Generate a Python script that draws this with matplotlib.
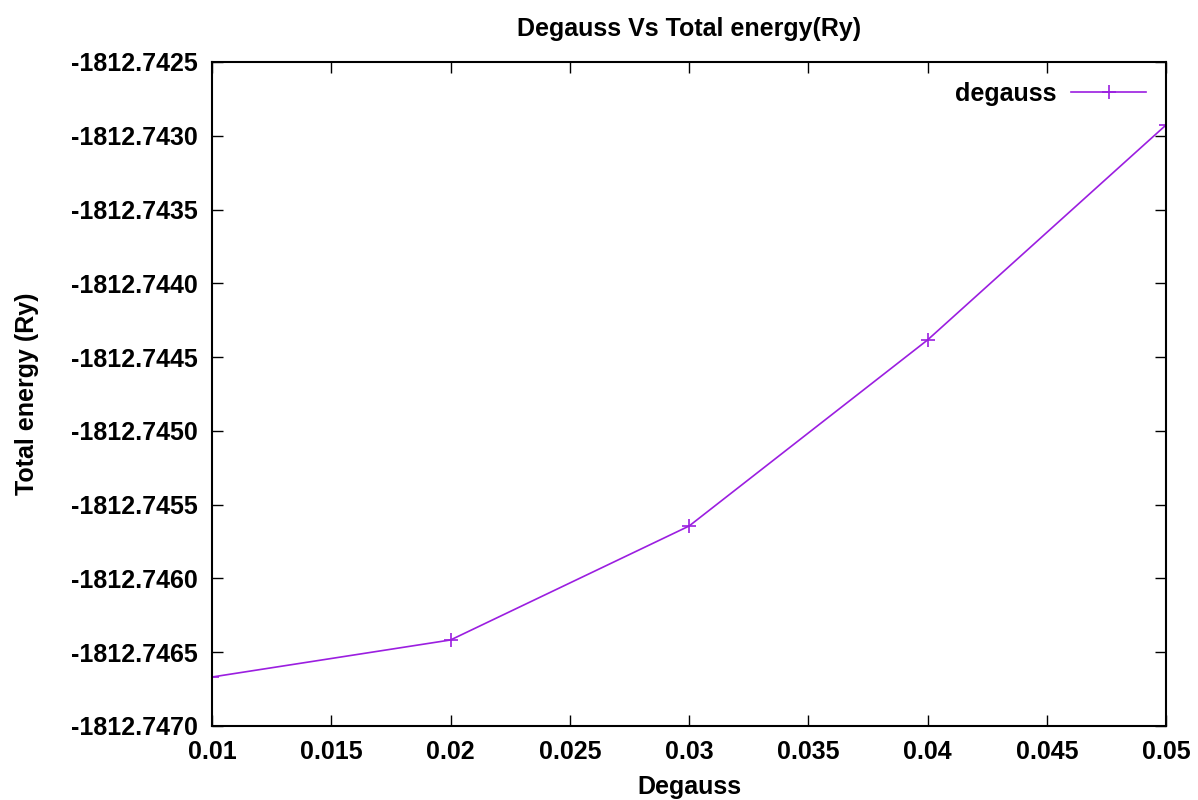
import matplotlib
matplotlib.use("Agg")
import matplotlib.pyplot as plt
from matplotlib.ticker import FormatStrFormatter, MultipleLocator

degauss = [0.01, 0.02, 0.03, 0.04, 0.05]
energy = [-1812.746668, -1812.746417, -1812.745645, -1812.744384, -1812.742927]

plt.rcParams["font.family"] = ["Liberation Sans", "DejaVu Sans"]
plt.rcParams["font.weight"] = "bold"

fig = plt.figure(figsize=(11.98, 8), dpi=100)
ax = fig.add_axes([0.177, 0.0925, 0.7963, 0.83])

ax.plot(degauss, energy, color="#9b1ee0", linewidth=1.2, marker="+",
        markersize=10, markeredgewidth=1.2, label="degauss")

ax.set_xlim(0.01, 0.05)
ax.set_ylim(-1812.7470, -1812.7425)
ax.xaxis.set_major_locator(MultipleLocator(0.005))
ax.yaxis.set_major_locator(MultipleLocator(0.0005))
ax.yaxis.set_major_formatter(FormatStrFormatter("%.4f"))
ax.xaxis.set_major_formatter(FormatStrFormatter("%g"))

ax.tick_params(direction="in", length=8, width=1, top=True, right=True,
               labelsize=18, pad=10)
for lab in ax.get_xticklabels() + ax.get_yticklabels():
    lab.set_fontweight("bold")
for s in ax.spines.values():
    s.set_linewidth(1.5)

ax.set_title("Degauss Vs Total energy(Ry)", fontsize=18, fontweight="bold", pad=19)
ax.set_xlabel("Degauss", fontsize=18, fontweight="bold", labelpad=8)
ax.set_ylabel("Total energy (Ry)", fontsize=18, fontweight="bold", labelpad=23)

ax.legend(loc="upper right", frameon=False, markerfirst=False, fontsize=18,
          handlelength=3.0, borderaxespad=0.4, handletextpad=0.6)

fig.savefig("out.png", dpi=100)
